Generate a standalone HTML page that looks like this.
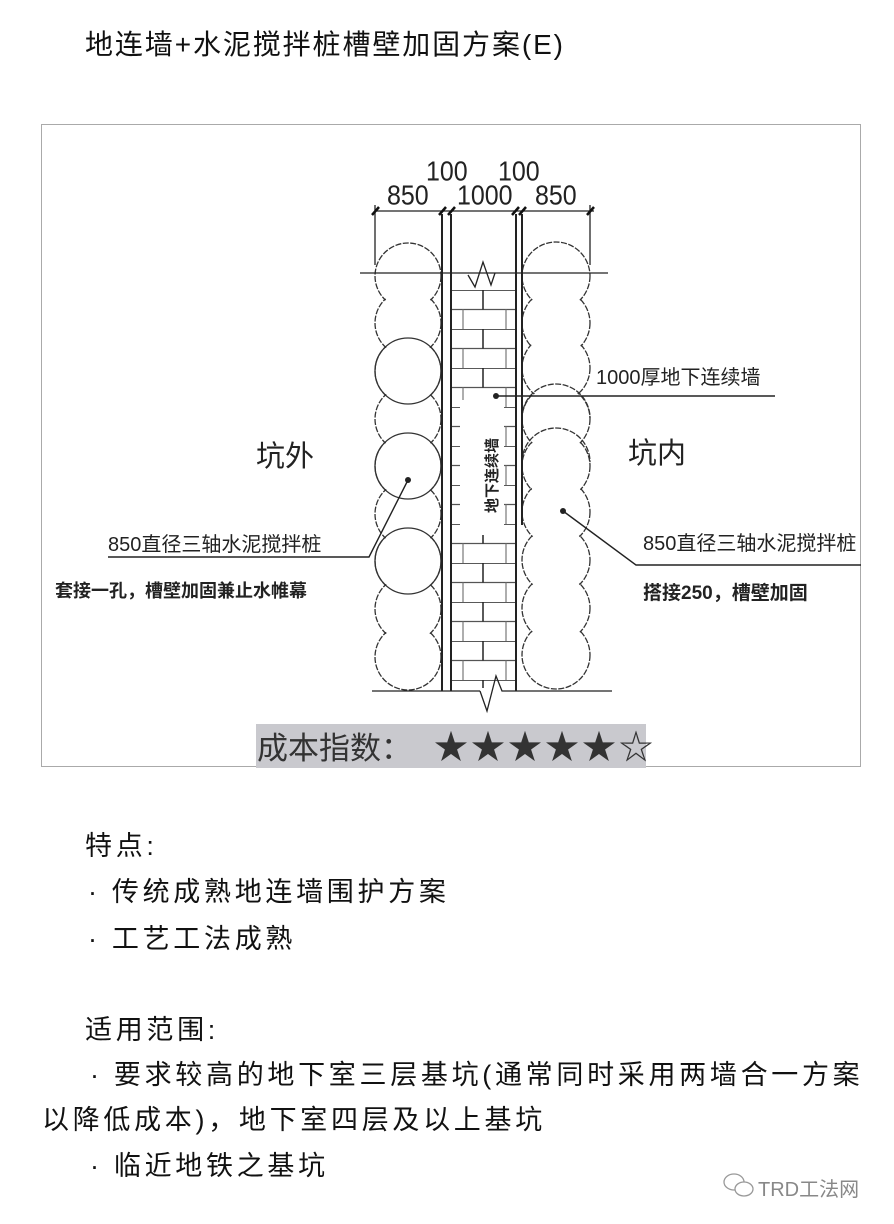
<!DOCTYPE html>
<html><head><meta charset="utf-8">
<style>
html,body{margin:0;padding:0;background:#fff;}
body{width:894px;height:1224px;position:relative;overflow:hidden;font-family:"Liberation Sans","Noto Sans CJK SC",sans-serif;color:#111;}
.t{position:absolute;white-space:nowrap;font-size:27px;line-height:32px;letter-spacing:3.7px;}
</style></head><body>
<div class="t" style="left:85px;top:29px;font-size:28px;letter-spacing:1.9px;">地连墙+水泥搅拌桩槽壁加固方案(E)</div>

<svg style="position:absolute;left:0;top:0" width="894" height="800" viewBox="0 0 894 800">
<defs>
<pattern id="brick" x="452" y="290" width="64" height="39" patternUnits="userSpaceOnUse">
<line x1="0" y1="0" x2="64" y2="0" stroke="#222" stroke-width="1.5"/>
<line x1="0" y1="19.5" x2="64" y2="19.5" stroke="#555" stroke-width="1.2"/>
<line x1="31" y1="0" x2="31" y2="19.5" stroke="#222" stroke-width="1.5"/>
<line x1="11" y1="19.5" x2="11" y2="39" stroke="#777" stroke-width="1.2"/>
<line x1="54" y1="19.5" x2="54" y2="39" stroke="#777" stroke-width="1.2"/>
</pattern>
</defs>
<rect x="41.5" y="124.5" width="819" height="642" fill="none" stroke="#aaa" stroke-width="1"/>
<g fill="none" stroke="#333" stroke-width="1.3" stroke-dasharray="6 1.5">
<circle cx="408" cy="276" r="33"/><circle cx="408" cy="323" r="33"/><circle cx="408" cy="371" r="33"/>
<circle cx="408" cy="419" r="33"/><circle cx="408" cy="466" r="33"/><circle cx="408" cy="514" r="33"/>
<circle cx="408" cy="561" r="33"/><circle cx="408" cy="609" r="33"/><circle cx="408" cy="657" r="33"/>
<circle cx="556" cy="276" r="34"/><circle cx="556" cy="323" r="34"/><circle cx="556" cy="368" r="34"/>
<circle cx="556" cy="419" r="34"/><circle cx="556" cy="466" r="34"/><circle cx="556" cy="512" r="34"/>
<circle cx="556" cy="560" r="34"/><circle cx="556" cy="608" r="34"/><circle cx="556" cy="655" r="34"/>
</g>
<g fill="#fff" stroke="none">
<circle cx="408" cy="276" r="32"/><circle cx="408" cy="323" r="32"/><circle cx="408" cy="371" r="32"/>
<circle cx="408" cy="419" r="32"/><circle cx="408" cy="466" r="32"/><circle cx="408" cy="514" r="32"/>
<circle cx="408" cy="561" r="32"/><circle cx="408" cy="609" r="32"/><circle cx="408" cy="657" r="32"/>
<circle cx="556" cy="276" r="33"/><circle cx="556" cy="323" r="33"/><circle cx="556" cy="368" r="33"/>
<circle cx="556" cy="419" r="33"/><circle cx="556" cy="466" r="33"/><circle cx="556" cy="512" r="33"/>
<circle cx="556" cy="560" r="33"/><circle cx="556" cy="608" r="33"/><circle cx="556" cy="655" r="33"/>
</g>
<g fill="none" stroke="#333" stroke-width="1.3">
<circle cx="408" cy="371" r="33"/><circle cx="408" cy="466" r="33"/><circle cx="408" cy="561" r="33"/>
<path d="M522,418 A34,34 0 0 1 590,418" stroke-dasharray="6 1.5"/>
<path d="M522,462 A34,34 0 0 1 590,462" stroke-dasharray="6 1.5"/>
</g>
<rect x="452" y="290" width="64" height="398" fill="url(#brick)"/>
<rect x="460" y="400" width="44" height="135" fill="#fff"/>
<g stroke="#222" stroke-width="2">
<line x1="442" y1="214" x2="442" y2="691"/>
<line x1="451" y1="214" x2="451" y2="691"/>
<line x1="516" y1="214" x2="516" y2="691"/>
<line x1="522" y1="214" x2="522" y2="525"/>
</g>
<g stroke="#222" stroke-width="1.3" fill="none">
<line x1="360" y1="273" x2="608" y2="273"/>
<polyline points="468,275 475,287 483,262 491,285 495,273"/>
<line x1="372" y1="691" x2="480" y2="691"/><line x1="508" y1="691" x2="612" y2="691"/>
<polyline points="480,691 487,711 496,676 502,691 508,691"/>
<line x1="375" y1="211" x2="594" y2="211"/>
<line x1="375" y1="205" x2="375" y2="265"/>
<line x1="590" y1="205" x2="590" y2="265"/>
</g>
<g stroke="#111" stroke-width="2.5">
<line x1="372" y1="215" x2="379" y2="207"/><line x1="439" y1="215" x2="446" y2="207"/>
<line x1="448" y1="215" x2="455" y2="207"/><line x1="512" y1="215" x2="519" y2="207"/>
<line x1="519" y1="215" x2="526" y2="207"/><line x1="587" y1="215" x2="594" y2="207"/>
</g>
<g font-family="Liberation Sans Narrow, Liberation Sans, sans-serif" font-size="25" fill="#222" transform="scale(1,1.1)">
<text x="387" y="186">850</text><text x="426" y="164">100</text><text x="457" y="186">1000</text>
<text x="498" y="164">100</text><text x="535" y="186">850</text>
</g>
<g stroke="#222" stroke-width="1.4" fill="none">
<line x1="496" y1="396" x2="775" y2="396"/>
<polyline points="108,557 369,557 408,480"/>
<polyline points="563,511 636,565 861,565"/>
</g>
<circle cx="496" cy="396" r="3" fill="#222"/><circle cx="408" cy="480" r="3" fill="#222"/><circle cx="563" cy="511" r="3" fill="#222"/>
<g font-family="Liberation Sans, Noto Sans CJK SC, sans-serif" fill="#222">
<text x="596" y="384" font-size="20">1000厚地下连续墙</text>
<text x="256" y="466" font-size="29">坑外</text>
<text x="628" y="463" font-size="29">坑内</text>
<text x="108" y="551" font-size="20">850直径三轴水泥搅拌桩</text>
<text x="55" y="597" font-size="18" font-weight="bold">套接一孔，槽壁加固兼止水帷幕</text>
<text x="643" y="550" font-size="20">850直径三轴水泥搅拌桩</text>
<text x="643" y="599" font-size="19" font-weight="bold">搭接250，槽壁加固</text>
<text transform="translate(497,513) rotate(-90)" font-size="15" font-weight="bold">地下连续墙</text>
</g>
<rect x="256" y="724" width="390" height="44" fill="#c9c9ce"/>
<text x="257" y="759" font-size="31" fill="#333" font-family="Liberation Sans, Noto Sans CJK SC, sans-serif">成本指数：<tspan x="434" letter-spacing="3" font-size="34">★★★★★☆</tspan></text>
</svg>

<div class="t" style="left:85px;top:830px;">特点:</div>
<div class="t" style="left:88px;top:876px;">· 传统成熟地连墙围护方案</div>
<div class="t" style="left:88px;top:923px;">· 工艺工法成熟</div>
<div class="t" style="left:85px;top:1014px;">适用范围:</div>
<div class="t" style="left:90px;top:1059px;">· 要求较高的地下室三层基坑(通常同时采用两墙合一方案</div>
<div class="t" style="left:42px;top:1104px;">以降低成本)，地下室四层及以上基坑</div>
<div class="t" style="left:90px;top:1150px;">· 临近地铁之基坑</div>
<div style="position:absolute;left:758px;top:1173px;font-size:20px;color:#888;white-space:nowrap;">TRD工法网</div>
<svg style="position:absolute;left:722px;top:1172px" width="34" height="28"><g fill="none" stroke="#999" stroke-width="1.3"><ellipse cx="12" cy="10" rx="10" ry="8"/><ellipse cx="22" cy="17" rx="9" ry="7" fill="#fff"/></g></svg>
</body></html>
